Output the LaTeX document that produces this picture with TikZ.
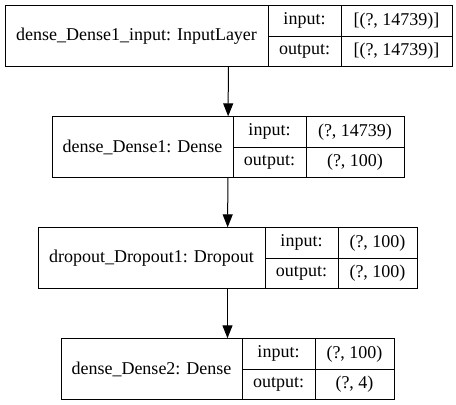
\documentclass[tikz,border=0pt]{standalone}
\usepackage{fontspec}
\setmainfont{Liberation Serif}
\usetikzlibrary{arrows.meta}
\begin{document}
\begin{tikzpicture}[x=1pt, y=-1pt,
    cell/.style={draw, line width=1pt, inner sep=0pt, font=\fontsize{18}{22}\selectfont},
    arrow/.style={line width=1pt, -{Triangle[length=13pt, width=10pt]}}]
    \useasboundingbox (0,0) rectangle (456,405);

    \foreach \i/\L/\a/\b/\R/\lname/\inp/\outp in {%
        1/5/268/341/452/{dense\_Dense1\_input: InputLayer}/{[(?, 14739)]}/{[(?, 14739)]},
        2/52/233/306/404/{dense\_Dense1: Dense}/{(?, 14739)}/{(?, 100)},
        3/38/265/338/417/{dropout\_Dropout1: Dropout}/{(?, 100)}/{(?, 100)},
        4/61/242/315/394/{dense\_Dense2: Dense}/{(?, 100)}/{(?, 4)}%
        }{
        \pgfmathsetmacro{\y}{36+111*(\i-1)}
        \pgfmathsetmacro{\w}{\R-\L}
        \pgfmathsetmacro{\wn}{\a-\L}
        \pgfmathsetmacro{\wk}{\b-\a}
        \pgfmathsetmacro{\wv}{\R-\b}

        % whole record, used by the arrows
        \node[inner sep=0pt, minimum width=\w pt, minimum height=61pt] (r\i) at ({(\L+\R)/2}, \y) {};

        \node[cell, minimum width=\wn pt, minimum height=61pt] (r\i-name) at ({(\L+\a)/2}, \y) {\lname};
        \node[cell, minimum width=\wk pt, minimum height=30.5pt] (r\i-ki) at ({(\a+\b)/2}, {\y-15.25}) {input:};
        \node[cell, minimum width=\wk pt, minimum height=30.5pt] (r\i-ko) at ({(\a+\b)/2}, {\y+15.25}) {output:};
        \node[cell, minimum width=\wv pt, minimum height=30.5pt] (r\i-vi) at ({(\b+\R)/2}, {\y-15.25}) {\inp};
        \node[cell, minimum width=\wv pt, minimum height=30.5pt] (r\i-vo) at ({(\b+\R)/2}, {\y+15.25}) {\outp};
    }

    \foreach \u/\v in {1/2, 2/3, 3/4}{
        \draw (r\u) edge[arrow] (r\v);
    }

\end{tikzpicture}
\end{document}
